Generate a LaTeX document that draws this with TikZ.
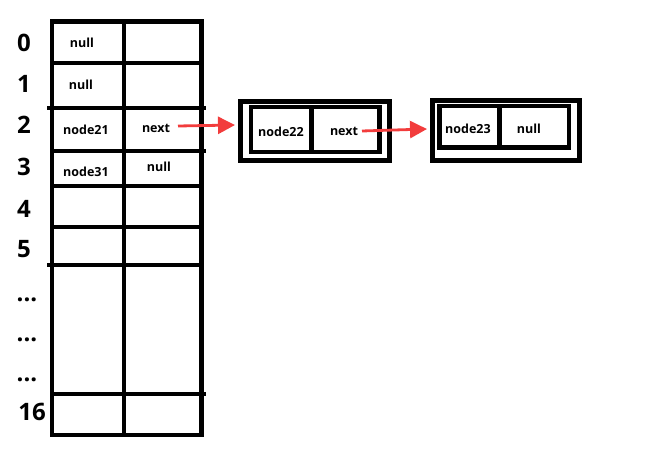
\documentclass[tikz,border=0pt]{standalone}
\usepackage{fontspec}
\setmainfont{Open Sans}
\usetikzlibrary{arrows.meta,calc}
\definecolor{arrred}{RGB}{242,60,60}
\begin{document}
\begin{tikzpicture}[x=1pt,y=-1pt,
  grid/.style={line width=4.5pt,line cap=rect},
  idx/.style={font=\bfseries\fontsize{24}{24}\selectfont,inner sep=0pt},
  cell/.style={font=\bfseries\fontsize{12.5}{13}\selectfont,inner sep=0pt},
  outerbox/.style={draw,line width=5pt,minimum width=#1,inner sep=0pt},
  innerbox/.style={line width=4.5pt},
  redarrow/.style={draw=arrred,line width=2.8pt,-{Triangle[length=17pt,width=17pt]}}]
\useasboundingbox (0,0) rectangle (656,460);
% table
\draw[grid,line join=miter] (52,21.5) rectangle (201.5,435);
\draw[grid] (124,21.5) -- (124,435);
\foreach \y in {63,186,227} \draw[grid] (52,\y) -- (201.5,\y);
\draw[grid] (49,108) -- (204,108);
\draw[grid] (52,151) -- (204,151);
\draw[grid] (49,265) -- (201.5,265);
\draw[grid] (52,394) -- (204,394);
% indices
\node[idx] (i0) at (24,43) {0};
\node[idx] (i1) at (24,84) {1};
\node[idx] (i2) at (24,125) {2};
\node[idx] (i3) at (24,167) {3};
\node[idx] (i4) at (24,209) {4};
\node[idx] (i5) at (24,249) {5};
\node[idx,anchor=base] (d1) at (27,301) {...};
\node[idx,anchor=base] (d2) at (27,341) {...};
\node[idx,anchor=base] (d3) at (27,381) {...};
\node[idx] (i16) at (32,412) {16};
% cells
\node[cell] (c0) at (82,43) {null};
\node[cell] (c1) at (81,85) {null};
\node[cell] (n21) at (86,130) {node21};
\node[cell] (n21next) at (156,128) {next};
\node[cell] (n31) at (86,172) {node31};
\node[cell] (n31next) at (159,167) {null};
% node22 box
\node[outerbox=149pt,minimum height=59pt] (box22) at (314.5,130.5) {};
\draw[innerbox] (251,107) rectangle (379.5,152);
\draw[innerbox] (311.5,107) -- (311.5,152);
\node[cell] (n22) at (281,132) {node22};
\node[cell] (n22next) at (344,131) {next};
% node23 box
\node[outerbox=147pt,minimum height=60pt] (box23) at (505.5,130) {};
\draw[innerbox] (439.5,106) rectangle (569,147.5);
\draw[innerbox] (499.5,106) -- (499.5,147.5);
\node[cell] (n23) at (468,129) {node23};
\node[cell] (n23next) at (529,129) {null};
% arrows
\coordinate (a1s) at (178,126);
\coordinate (a1e) at (235,125);
\coordinate (a2s) at (362,131);
\coordinate (a2e) at (427,129);
\path[redarrow] (a1s) -- (a1e);
\path[redarrow] (a2s) -- (a2e);
\end{tikzpicture}
\end{document}
